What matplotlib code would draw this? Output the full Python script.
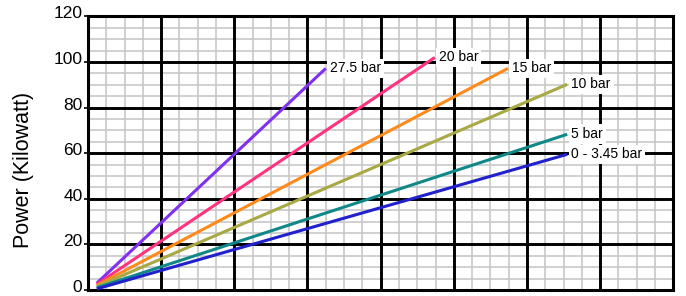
import numpy as np
import matplotlib.pyplot as plt
import matplotlib.transforms as mtransforms
from matplotlib.ticker import MultipleLocator

plt.rcParams['font.family'] = ['Liberation Sans', 'DejaVu Sans']

# Pressure curves: start and end points (flow, power in kW)
labels = ['27.5 bar', '20 bar', '15 bar', '10 bar', '5 bar', '0 - 3.45 bar']
x_start = [0.6, 0.6, 0.6, 0.6, 0.6, 0.6]
y_start = [3.0, 2.5, 2.0, 1.5, 1.0, 0.5]
x_end = [16.25, 23.7, 28.7, 32.75, 32.75, 32.75]
y_end = [97.2, 102.0, 97.2, 90.2, 68.3, 59.5]
colors = ['#8030f0', '#ff3380', '#ff8a1c', '#a8a844', '#108888', '#2020cc']

y_ticks = [0, 20, 40, 60, 80, 100, 120]
x_major = [5, 10, 15, 20, 25, 30, 35]

fig = plt.figure(figsize=(6.86, 2.96), dpi=100)
ax = fig.add_axes([0.1283, 0.0203, 0.8532, 0.9243])

ax.set_xlim(0, 40)
ax.set_ylim(0, 120)

# Light minor grid, heavy major lines on top of it
ax.xaxis.set_minor_locator(MultipleLocator(1.25))
ax.set_xticks([])
ax.set_yticks(y_ticks)
ax.yaxis.set_minor_locator(MultipleLocator(5))
ax.grid(which='minor', color='#c8c8c8', lw=1.2)
ax.set_axisbelow(True)
for xv in x_major:
    ax.axvline(xv, color='black', lw=2.1, zorder=1)
for yv in y_ticks[1:-1]:
    ax.axhline(yv, color='black', lw=2.1, zorder=1)

for s in ax.spines.values():
    s.set_linewidth(2.2)

ax.tick_params(axis='x', which='both', length=0, labelbottom=False)
ax.tick_params(axis='y', which='minor', length=0)
ax.tick_params(axis='y', which='major', length=3, width=1.2, pad=1,
               labelsize=12.5, colors='black')
# tick labels sit a little above their lines
shift = mtransforms.ScaledTranslation(0, 4 / 100, fig.dpi_scale_trans)
for lab in ax.get_yticklabels():
    lab.set_transform(lab.get_transform() + shift)

for i in range(len(labels)):
    ax.plot([x_start[i], x_end[i]], [y_start[i], y_end[i]], color=colors[i],
            lw=2.2, solid_capstyle='butt', zorder=3)
    ax.annotate(labels[i], (x_end[i], y_end[i]), xytext=(3, 0),
                textcoords='offset points', va='center', ha='left',
                fontsize=10, zorder=4,
                bbox=dict(boxstyle='square,pad=0.2', fc='white', ec='none'))

ax.set_ylabel('Power (Kilowatt)', fontsize=15.5)
ax.yaxis.set_label_coords(-0.092, 0.437)

plt.savefig('out.png', dpi=100)
